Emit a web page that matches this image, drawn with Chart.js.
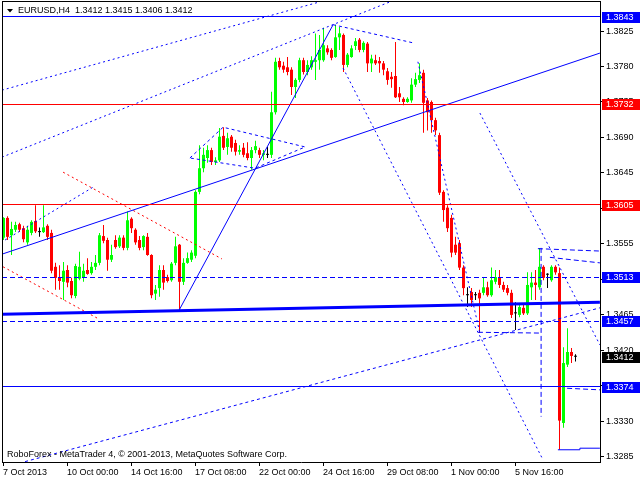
<!DOCTYPE html>
<html>
<head>
<meta charset="utf-8">
<script src="https://cdn.jsdelivr.net/npm/chart.js@4.4.1/dist/chart.umd.min.js"></script>
<style>
html,body{margin:0;padding:0;background:#ffffff;overflow:hidden;}
canvas{display:block;}
</style>
</head>
<body>
<canvas id="chart" width="640" height="480"></canvas>
<script>
// ---------- DATA (EURUSD H4) ----------
const openPrices = [
1.3563,1.3588,1.3566,1.3573,1.3580,1.3575,1.3557,1.3569,1.3584,1.3570,
1.3570,1.3578,1.3569,1.3526,1.3513,1.3507,1.3522,1.3508,1.3489,1.3511,
1.3512,1.3522,1.3518,1.3526,1.3531,1.3565,1.3560,1.3535,1.3560,1.3552,
1.3563,1.3550,1.3587,1.3573,1.3560,1.3551,1.3564,1.3541,1.3492,1.3499,
1.3522,1.3513,1.3509,1.3531,1.3554,1.3507,1.3531,1.3535,1.3540,1.3621,
1.3651,1.3664,1.3674,1.3659,1.3661,1.3692,1.3678,1.3691,1.3683,1.3672,
1.3677,1.3670,1.3664,1.3674,1.3674,1.3668,1.3668,1.3668,1.3722,1.3787,
1.3781,1.3779,1.3776,1.3754,1.3763,1.3788,1.3773,1.3779,1.3786,1.3788,
1.3788,1.3803,1.3801,1.3792,1.3817,1.3820,1.3782,1.3792,1.3806,1.3814,
1.3801,1.3809,1.3784,1.3788,1.3787,1.3784,1.3774,1.3767,1.3768,1.3746,
1.3739,1.3735,1.3737,1.3757,1.3763,1.3772,1.3737,1.3735,1.3712,1.3693,
1.3621,1.3601,1.3588,1.3554,1.3556,1.3525,1.3490,1.3494,1.3490,1.3493,
1.3493,1.3500,1.3490,1.3507,1.3512,1.3503,1.3499,1.3493,1.3467,1.3465,
1.3474,1.3467,1.3500,1.3506,1.3500,1.3526,1.3516,1.3509,1.3526,1.3518,
1.3328,1.3402,1.3418,1.3412];
const highPrices = [
1.3589,1.3590,1.3583,1.3583,1.3582,1.3578,1.3578,1.3585,1.3604,1.3576,
1.3604,1.3580,1.3573,1.3531,1.3528,1.3532,1.3528,1.3512,1.3530,1.3545,
1.3530,1.3537,1.3532,1.3541,1.3569,1.3579,1.3563,1.3554,1.3566,1.3566,
1.3566,1.3596,1.3589,1.3575,1.3565,1.3566,1.3569,1.3542,1.3503,1.3528,
1.3528,1.3516,1.3532,1.3564,1.3555,1.3537,1.3544,1.3547,1.3623,1.3680,
1.3677,1.3680,1.3677,1.3665,1.3702,1.3703,1.3696,1.3693,1.3687,1.3680,
1.3683,1.3684,1.3678,1.3686,1.3677,1.3674,1.3678,1.3748,1.3791,1.3791,
1.3786,1.3792,1.3779,1.3765,1.3791,1.3791,1.3788,1.3793,1.3822,1.3820,
1.3829,1.3807,1.3803,1.3833,1.3830,1.3822,1.3797,1.3807,1.3816,1.3816,
1.3812,1.3811,1.3795,1.3795,1.3792,1.3787,1.3778,1.3773,1.3811,1.3754,
1.3741,1.3741,1.3765,1.3772,1.3784,1.3776,1.3740,1.3737,1.3715,1.3696,
1.3623,1.3604,1.3592,1.3564,1.3560,1.3528,1.3500,1.3499,1.3494,1.3497,
1.3512,1.3507,1.3525,1.3522,1.3522,1.3507,1.3503,1.3497,1.3481,1.3478,
1.3478,1.3519,1.3519,1.3522,1.3550,1.3528,1.3518,1.3528,1.3528,1.3525,
1.3424,1.3448,1.3423,1.3415];
const lowPrices = [
1.3560,1.3560,1.3541,1.3570,1.3570,1.3557,1.3554,1.3566,1.3569,1.3564,
1.3569,1.3560,1.3518,1.3497,1.3497,1.3484,1.3500,1.3486,1.3486,1.3509,
1.3507,1.3516,1.3516,1.3522,1.3528,1.3556,1.3521,1.3532,1.3549,1.3550,
1.3547,1.3547,1.3569,1.3554,1.3547,1.3547,1.3540,1.3486,1.3484,1.3488,
1.3497,1.3506,1.3507,1.3528,1.3471,1.3503,1.3530,1.3532,1.3537,1.3618,
1.3646,1.3658,1.3655,1.3655,1.3659,1.3674,1.3668,1.3672,1.3667,1.3668,
1.3665,1.3661,1.3649,1.3670,1.3664,1.3661,1.3664,1.3664,1.3719,1.3776,
1.3772,1.3769,1.3744,1.3740,1.3760,1.3770,1.3769,1.3776,1.3763,1.3776,
1.3786,1.3795,1.3788,1.3791,1.3801,1.3773,1.3779,1.3791,1.3801,1.3798,
1.3798,1.3773,1.3773,1.3782,1.3772,1.3769,1.3757,1.3753,1.3740,1.3735,
1.3731,1.3734,1.3734,1.3754,1.3759,1.3696,1.3699,1.3696,1.3693,1.3617,
1.3583,1.3570,1.3538,1.3541,1.3522,1.3490,1.3475,1.3475,1.3484,1.3442,
1.3490,1.3488,1.3488,1.3504,1.3499,1.3494,1.3490,1.3461,1.3446,1.3462,
1.3465,1.3465,1.3484,1.3484,1.3497,1.3509,1.3499,1.3507,1.3516,1.3294,
1.3322,1.3399,1.3404,1.3406];
const closePrices = [
1.3588,1.3564,1.3574,1.3579,1.3573,1.3561,1.3573,1.3583,1.3571,1.3570,
1.3576,1.3564,1.3521,1.3512,1.3508,1.3521,1.3506,1.3490,1.3527,1.3526,
1.3521,1.3517,1.3526,1.3531,1.3566,1.3559,1.3535,1.3541,1.3551,1.3563,
1.3550,1.3585,1.3575,1.3557,1.3550,1.3565,1.3541,1.3490,1.3497,1.3522,
1.3506,1.3508,1.3530,1.3552,1.3507,1.3531,1.3537,1.3544,1.3621,1.3651,
1.3668,1.3674,1.3659,1.3661,1.3691,1.3677,1.3689,1.3677,1.3672,1.3674,
1.3668,1.3664,1.3674,1.3679,1.3668,1.3670,1.3668,1.3722,1.3786,1.3779,
1.3776,1.3773,1.3754,1.3763,1.3788,1.3773,1.3782,1.3788,1.3788,1.3801,
1.3807,1.3798,1.3791,1.3817,1.3822,1.3782,1.3795,1.3803,1.3812,1.3801,
1.3810,1.3784,1.3790,1.3784,1.3784,1.3776,1.3763,1.3764,1.3741,1.3741,
1.3735,1.3739,1.3757,1.3764,1.3769,1.3734,1.3722,1.3712,1.3699,1.3620,
1.3598,1.3575,1.3544,1.3544,1.3525,1.3499,1.3490,1.3484,1.3490,1.3486,
1.3500,1.3490,1.3509,1.3513,1.3503,1.3497,1.3493,1.3465,1.3467,1.3475,
1.3467,1.3503,1.3506,1.3503,1.3526,1.3512,1.3516,1.3526,1.3519,1.3331,
1.3404,1.3418,1.3413,1.3412];

const xTickBars = [0,16,32,48,64,80,96,112,128];
const xTickLabels = ['7 Oct 2013','10 Oct 00:00','14 Oct 16:00','17 Oct 08:00','22 Oct 00:00','24 Oct 16:00','29 Oct 08:00','1 Nov 00:00','5 Nov 16:00'];
const yTickValues = [1.3285,1.3330,1.3375,1.3420,1.3465,1.3510,1.3555,1.3600,1.3645,1.3690,1.3735,1.3780,1.3825];
const levelPrices = [1.3843,1.3732,1.3605,1.3513,1.3457,1.3374];
const symbolTitle = 'EURUSD,H4';
const copyrightText = 'RoboForex - MetaTrader 4, \u00a9 2001-2013, MetaQuotes Software Corp.';

// trend lines as [bar index, price]
const channelUpper1 = [[-0.4,1.3750],[79.1,1.3862]];
const channelUpper2 = [[-0.4,1.3665],[96.6,1.3862]];
const channelLower  = [[5.4,1.3279],[149.1,1.3474]];
const channelMid    = [[-0.4,1.3542],[149.1,1.3797]];
const supportLine   = [[-0.4,1.3466],[149.1,1.3481]];
const redUpper      = [[14.9,1.3646],[54.6,1.3536]];
const redLower      = [[-0.1,1.3526],[23.4,1.3461]];
const leftRise      = [[0.4,1.3560],[22.4,1.3627]];
const diamondEdges  = [[46.6,1.3664],[54.9,1.3703],[75.4,1.3678],[62.9,1.3651],[46.6,1.3664]];
const topEdge       = [[82.4,1.3833],[102.4,1.3810]];
const fallLong      = [[84.9,1.3778],[134.9,1.3281]];
const fallRight     = [[119.1,1.3721],[149.1,1.3427]];
const fallFast      = [[103.6,1.3786],[119.1,1.3442]];
const riseLine      = [[43.9,1.3471],[82.4,1.3833]];
const vertMark      = [[134.4,1.3550],[134.4,1.3336]];
const rightLevelA   = [[133.6,1.3549],[149.1,1.3546]];
const rightLevelB   = [[136.6,1.3538],[149.1,1.3531]];
const lowBase       = [[118.6,1.3443],[134.1,1.3442]];
const shortLevel    = [[140.9,1.3372],[149.1,1.3370]];
const bottomStep    = [[138.6,1.3294],[144.1,1.3294],[144.1,1.3296],[149.1,1.3296]];

// ---------- STYLE ----------
const FONT = '"Liberation Sans", Arial, sans-serif';
const BLUE = '#0000ff', RED = '#ff0000', GREEN = '#00ff00';
const DOT = [2,3], DASH = [5,3];
const levelColors = [BLUE, RED, RED, BLUE, BLUE, BLUE];
const levelDashes = [[], [], [], DASH, DASH, []];

function candleColor(i){
  const o = openPrices[i], c = closePrices[i];
  return c > o ? GREEN : (c < o ? RED : '#000000');
}
const idx = openPrices.map((_, i) => i);

function lineDs(points, color, width, dash){
  return {
    type: 'line',
    data: points.map(p => ({x: p[0], y: p[1]})),
    borderColor: color, borderWidth: width, borderDash: dash,
    pointRadius: 0, pointHoverRadius: 0, fill: false, tension: 0, order: 0
  };
}

const datasets = [
  { type: 'bar', data: idx.map(i => ({x: i, y: [lowPrices[i], highPrices[i]]})),
    backgroundColor: c => candleColor(c.dataIndex), barThickness: 1, grouped: false,
    borderWidth: 0, inflateAmount: 0, order: 11 },
  { type: 'bar', data: idx.map(i => ({x: i, y: [openPrices[i], closePrices[i]]})),
    backgroundColor: c => candleColor(c.dataIndex), barThickness: 3, grouped: false,
    borderWidth: 0, inflateAmount: 0, minBarLength: 1, order: 10 },
  lineDs(channelUpper1, BLUE, 1, DOT),
  lineDs(channelUpper2, BLUE, 1, DOT),
  lineDs(channelLower, BLUE, 1, [3,3]),
  lineDs(channelMid, BLUE, 1, []),
  lineDs(supportLine, BLUE, 3, []),
  lineDs(redUpper, RED, 1, DOT),
  lineDs(redLower, RED, 1, DOT),
  lineDs(leftRise, BLUE, 1, DOT),
  lineDs(diamondEdges, BLUE, 1, [3,3]),
  lineDs(topEdge, BLUE, 1, [3,3]),
  lineDs(fallLong, BLUE, 1, DOT),
  lineDs(fallRight, BLUE, 1, DOT),
  lineDs(fallFast, BLUE, 1, DOT),
  lineDs(riseLine, BLUE, 1, []),
  lineDs(vertMark, BLUE, 1, DASH),
  lineDs(rightLevelA, BLUE, 1, DASH),
  lineDs(rightLevelB, BLUE, 1, DASH),
  lineDs(lowBase, BLUE, 1, DASH),
  lineDs(shortLevel, BLUE, 1, DASH),
  lineDs(bottomStep, BLUE, 1, [])
];

const overlay = {
  id: 'overlay',
  afterDatasetsDraw(chart){
    const ctx = chart.ctx, ys = chart.scales.y, ca = chart.chartArea;
    ctx.save();
    ctx.beginPath(); ctx.rect(ca.left, ca.top, ca.right - ca.left, ca.bottom - ca.top); ctx.clip();
    levelPrices.forEach((p, k) => {
      const y = Math.round(ys.getPixelForValue(p) - 0.5) + 0.5;
      ctx.strokeStyle = levelColors[k]; ctx.lineWidth = 1; ctx.setLineDash(levelDashes[k]);
      ctx.beginPath(); ctx.moveTo(ca.left, y); ctx.lineTo(ca.right, y); ctx.stroke();
    });
    ctx.restore();
  },
  afterDraw(chart){
    const ctx = chart.ctx, ys = chart.scales.y, ca = chart.chartArea;
    ctx.save();
    // price labels on the axis
    const last = closePrices.length - 1;
    const tags = levelPrices.map((p, k) => ({p, bg: levelColors[k]}));
    tags.push({p: closePrices[last], bg: '#000000'});
    ctx.font = '9px ' + FONT; ctx.textBaseline = 'middle'; ctx.textAlign = 'left';
    tags.forEach(t => {
      const yc = Math.round(ys.getPixelForValue(t.p));
      ctx.fillStyle = t.bg; ctx.fillRect(ca.right + 2, yc - 5, 40, 11);
      ctx.fillStyle = '#ffffff'; ctx.fillText(t.p.toFixed(4), ca.right + 6, yc + 0.5);
    });
    // frame
    ctx.fillStyle = '#000000';
    ctx.fillRect(ca.left, ca.top - 1, ca.right - ca.left + 1, 1);
    ctx.fillRect(ca.left, ca.top - 1, 1, ca.bottom - ca.top + 1);
    // title
    ctx.beginPath(); ctx.moveTo(7, 9); ctx.lineTo(13, 9); ctx.lineTo(10, 12.5); ctx.closePath(); ctx.fill();
    ctx.font = '9px ' + FONT; ctx.textBaseline = 'middle';
    const t = symbolTitle + '  ' + [openPrices[last], highPrices[last], lowPrices[last], closePrices[last]].map(v => v.toFixed(4)).join(' ');
    ctx.fillText(t, 18, 11);
    ctx.fillText(copyrightText, 7, 455);
    ctx.restore();
  }
};

Chart.defaults.font.family = FONT;
new Chart(document.getElementById('chart'), {
  type: 'bar',
  data: { datasets },
  options: {
    responsive: false, animation: false, maintainAspectRatio: false,
    layout: { padding: { left: 2, top: 2, right: 0, bottom: 0 } },
    plugins: { legend: { display: false }, tooltip: { enabled: false } },
    events: [],
    scales: {
      x: {
        type: 'linear', position: 'bottom', min: -0.375, max: 149.125, offset: false, bounds: 'data',
        afterBuildTicks: s => { s.ticks = xTickBars.map(b => ({value: b - 0.125})); },
        afterFit: s => { s.height = 18; s.paddingLeft = 0; s.paddingRight = 0; },
        ticks: { callback: (v, i) => xTickLabels[i], align: 'start', autoSkip: false, maxRotation: 0,
                 color: '#000000', font: { size: 9, family: FONT }, padding: 1 },
        grid: { drawOnChartArea: false, drawTicks: true, tickLength: 4, color: '#000000', offset: false },
        border: { display: true, color: '#000000', width: 1 }
      },
      y: {
        type: 'linear', position: 'right', min: 1.32785, max: 1.38618, bounds: 'data',
        afterBuildTicks: s => { s.ticks = yTickValues.map(v => ({value: v})); },
        afterFit: s => { s.width = 40; s.paddingTop = 0; s.paddingBottom = 0; },
        ticks: { callback: v => Number(v).toFixed(4), autoSkip: false, color: '#000000',
                 font: { size: 9, family: FONT }, padding: 2 },
        grid: { drawOnChartArea: false, drawTicks: true, tickLength: 4, color: '#000000' },
        border: { display: true, color: '#000000', width: 1 }
      }
    }
  },
  plugins: [overlay]
});
</script>
</body>
</html>
